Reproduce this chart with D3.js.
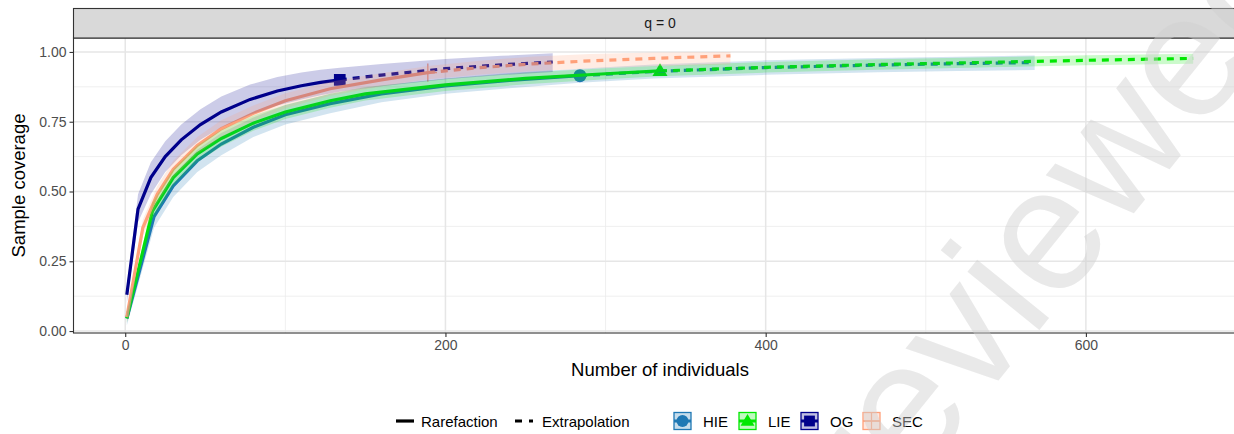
<!DOCTYPE html>
<html>
<head>
<meta charset="utf-8">
<script src="https://cdn.jsdelivr.net/npm/d3@7/dist/d3.min.js"></script>
<style>
  body { margin: 0; background: #fff; }
  svg { display: block; font-family: "Liberation Sans", Arial, sans-serif; }
</style>
</head>
<body>
<svg id="chart" width="1234" height="434"></svg>
<script>
// tick labels
const xTicks = [0, 200, 400, 600];
const yTicks = [0, 0.25, 0.5, 0.75, 1];
const lineTypes = ['Rarefaction', 'Extrapolation'];

// sites
const siteNames = ['HIE', 'LIE', 'OG', 'SEC'];
const siteColors = ['#1f78b4', '#00e800', '#00008b', '#ffa07a'];
const siteShapes = ['circle', 'triangle', 'square', 'plus'];
const siteObserved = [284, 334, 134, 189];

// number of individuals / coverage / lower / upper, per site
const hieN  = [1, 18, 30, 45, 60, 80, 100, 128, 160, 200, 240, 284, 330, 400, 470, 520, 568];
const hieC  = [0.045, 0.41, 0.52, 0.61, 0.67, 0.73, 0.775, 0.815, 0.85, 0.878, 0.898, 0.915, 0.93, 0.944, 0.953, 0.958, 0.962];
const hieLo = [0.02, 0.37, 0.48, 0.57, 0.63, 0.695, 0.74, 0.78, 0.82, 0.85, 0.87, 0.89, 0.905, 0.918, 0.927, 0.932, 0.935];
const hieHi = [0.07, 0.45, 0.56, 0.65, 0.71, 0.765, 0.81, 0.85, 0.88, 0.905, 0.925, 0.94, 0.955, 0.97, 0.978, 0.983, 0.987];

const lieN  = [1, 17, 30, 45, 60, 80, 100, 128, 150, 200, 250, 300, 334, 400, 470, 540, 600, 667];
const lieC  = [0.045, 0.43, 0.55, 0.635, 0.69, 0.745, 0.785, 0.825, 0.85, 0.882, 0.905, 0.922, 0.932, 0.945, 0.955, 0.963, 0.97, 0.977];
const lieLo = [0.03, 0.40, 0.52, 0.605, 0.66, 0.718, 0.76, 0.80, 0.826, 0.86, 0.884, 0.902, 0.913, 0.926, 0.936, 0.945, 0.952, 0.958];
const lieHi = [0.06, 0.46, 0.58, 0.665, 0.72, 0.772, 0.81, 0.85, 0.874, 0.904, 0.926, 0.942, 0.951, 0.964, 0.974, 0.981, 0.988, 0.994];

const ogN  = [1, 8, 16, 25, 35, 47, 60, 78, 95, 110, 122, 134, 160, 200, 235, 267];
const ogC  = [0.13, 0.437, 0.55, 0.625, 0.685, 0.74, 0.785, 0.83, 0.86, 0.879, 0.891, 0.90, 0.917, 0.94, 0.954, 0.964];
const ogLo = [0.10, 0.39, 0.49, 0.57, 0.63, 0.685, 0.73, 0.775, 0.808, 0.83, 0.845, 0.857, 0.877, 0.902, 0.917, 0.928];
const ogHi = [0.16, 0.49, 0.605, 0.68, 0.74, 0.795, 0.84, 0.883, 0.91, 0.926, 0.936, 0.943, 0.957, 0.975, 0.986, 0.995];

const secN  = [1, 11, 20, 30, 45, 60, 80, 100, 128, 160, 189, 220, 253, 290, 330, 378];
const secC  = [0.05, 0.37, 0.49, 0.58, 0.665, 0.725, 0.78, 0.825, 0.868, 0.90, 0.926, 0.943, 0.957, 0.968, 0.977, 0.986];
const secLo = [0.03, 0.34, 0.46, 0.55, 0.635, 0.695, 0.752, 0.798, 0.843, 0.876, 0.902, 0.918, 0.931, 0.941, 0.949, 0.955];
const secHi = [0.07, 0.40, 0.52, 0.61, 0.695, 0.755, 0.808, 0.852, 0.893, 0.924, 0.95, 0.968, 0.983, 0.993, 0.998, 1.0];

const raw = [[hieN, hieC, hieLo, hieHi], [lieN, lieC, lieLo, lieHi], [ogN, ogC, ogLo, ogHi], [secN, secC, secLo, secHi]];
const sites = raw.map((r, i) => ({
  name: siteNames[i], color: siteColors[i], shape: siteShapes[i], obs: siteObserved[i],
  pts: r[0].map((n, j) => ({n: n, c: r[1][j], lo: r[2][j], hi: r[3][j]}))
}));

const svg = d3.select('#chart');
const panel = {left: 73.5, right: 1246.5, top: 38, bottom: 333};

const allN = sites.flatMap(s => s.pts.map(p => p.n));
const nMin = d3.min(allN), nMax = d3.max(allN), pad = (nMax - nMin) * 0.05;
const x = d3.scaleLinear().domain([nMin - pad, nMax + pad]).range([panel.left, panel.right]);
const y = d3.scaleLinear().domain([-0.007, 1.05]).range([panel.bottom, panel.top]);

// panel grid
const grid = svg.append('g');
const xMinor = xTicks.slice(0, -1).map(t => t + 100).concat([700]).filter(t => x(t) < panel.right);
const yMinor = yTicks.slice(0, -1).map(t => t + 0.125);
grid.selectAll('.xmin').data(xMinor).enter().append('line')
  .attr('x1', d => x(d)).attr('x2', d => x(d)).attr('y1', panel.top).attr('y2', panel.bottom)
  .attr('stroke', '#ebebeb').attr('stroke-width', 0.8);
grid.selectAll('.ymin').data(yMinor).enter().append('line')
  .attr('x1', panel.left).attr('x2', panel.right).attr('y1', d => y(d)).attr('y2', d => y(d))
  .attr('stroke', '#ebebeb').attr('stroke-width', 0.8);
grid.selectAll('.xmaj').data(xTicks).enter().append('line')
  .attr('x1', d => x(d)).attr('x2', d => x(d)).attr('y1', panel.top).attr('y2', panel.bottom)
  .attr('stroke', '#e6e6e6').attr('stroke-width', 1.5);
grid.selectAll('.ymaj').data(yTicks).enter().append('line')
  .attr('x1', panel.left).attr('x2', panel.right).attr('y1', d => y(d)).attr('y2', d => y(d))
  .attr('stroke', '#e6e6e6').attr('stroke-width', 1.5);

svg.append('clipPath').attr('id', 'clip').append('rect')
  .attr('x', panel.left).attr('y', panel.top).attr('width', panel.right - panel.left).attr('height', panel.bottom - panel.top);
const plot = svg.append('g').attr('clip-path', 'url(#clip)');

const line = d3.line().x(d => x(d.n)).y(d => y(d.c));
const area = d3.area().x(d => x(d.n)).y0(d => y(d.lo)).y1(d => y(d.hi));

function marker(g, shape, cx, cy, s, color) {
  if (shape === 'circle') {
    g.append('circle').attr('cx', cx).attr('cy', cy).attr('r', s / 2).attr('fill', color);
  } else if (shape === 'triangle') {
    const h = s * 0.95;
    g.append('path').attr('d', `M${cx},${cy - h * 0.62}L${cx + s * 0.58},${cy + h * 0.42}L${cx - s * 0.58},${cy + h * 0.42}Z`).attr('fill', color);
  } else if (shape === 'square') {
    g.append('rect').attr('x', cx - s * 0.45).attr('y', cy - s * 0.45).attr('width', s * 0.9).attr('height', s * 0.9).attr('fill', color);
  } else {
    g.append('path').attr('d', `M${cx - s * 0.7},${cy}H${cx + s * 0.7}M${cx},${cy - s * 0.7}V${cy + s * 0.7}`)
      .attr('stroke', color).attr('stroke-width', 1.2).attr('fill', 'none');
  }
}

// observed points
sites.forEach(s => {
  const p = s.pts.find(d => d.n === s.obs);
  marker(plot, s.shape, x(p.n), y(p.c), 13, s.color);
});

// rarefaction + extrapolation lines
sites.forEach(s => {
  plot.append('path').datum(s.pts.filter(d => d.n <= s.obs)).attr('d', line)
    .attr('fill', 'none').attr('stroke', s.color).attr('stroke-width', 3.2);
  plot.append('path').datum(s.pts.filter(d => d.n >= s.obs)).attr('d', line)
    .attr('fill', 'none').attr('stroke', s.color).attr('stroke-width', 3.2).attr('stroke-dasharray', '7,6');
});

// confidence ribbons on top
sites.forEach(s => {
  plot.append('path').datum(s.pts).attr('d', area).attr('fill', s.color).attr('fill-opacity', 0.2);
});

// panel border
svg.append('rect').attr('x', panel.left).attr('y', panel.top)
  .attr('width', panel.right - panel.left).attr('height', panel.bottom - panel.top)
  .attr('fill', 'none').attr('stroke', '#333').attr('stroke-width', 1.1);

// facet strip
svg.append('rect').attr('x', panel.left).attr('y', 8.5).attr('width', panel.right - panel.left).attr('height', panel.top - 8.5)
  .attr('fill', '#d9d9d9').attr('stroke', '#333').attr('stroke-width', 1.1);
svg.append('text').attr('x', (panel.left + panel.right) / 2).attr('y', 28)
  .attr('text-anchor', 'middle').attr('font-size', 14).attr('fill', '#1a1a1a').text('q = 0');

// axes
const xAxis = svg.append('g').attr('transform', `translate(0,${panel.bottom})`)
  .call(d3.axisBottom(x).tickValues(xTicks).tickSize(4).tickPadding(3).tickFormat(d3.format('d')));
const yAxis = svg.append('g').attr('transform', `translate(${panel.left},0)`)
  .call(d3.axisLeft(y).tickValues(yTicks).tickSize(4).tickPadding(3).tickFormat(d3.format('.2f')));
[xAxis, yAxis].forEach(a => {
  a.select('.domain').remove();
  a.selectAll('line').attr('stroke', '#333').attr('stroke-width', 1.1);
  a.selectAll('text').attr('font-size', 14).attr('fill', '#4d4d4d').attr('font-family', 'Liberation Sans, Arial, sans-serif');
});

svg.append('text').attr('x', (panel.left + panel.right) / 2).attr('y', 376)
  .attr('text-anchor', 'middle').attr('font-size', 18.5).attr('fill', '#000').text('Number of individuals');
svg.append('text').attr('transform', `translate(25,${(panel.top + panel.bottom) / 2}) rotate(-90)`)
  .attr('text-anchor', 'middle').attr('font-size', 18.5).attr('fill', '#000').text('Sample coverage');

// legend
const leg = svg.append('g').attr('font-size', 15).attr('fill', '#000');
const legY = 421;
const ltKeys = [{x: 396, dash: null}, {x: 515, dash: '7,7'}];
const ltText = [421, 542];
lineTypes.forEach((t, i) => {
  leg.append('line').attr('x1', ltKeys[i].x).attr('x2', ltKeys[i].x + 18).attr('y1', legY).attr('y2', legY)
    .attr('stroke', '#000').attr('stroke-width', 3.2).attr('stroke-dasharray', ltKeys[i].dash);
  leg.append('text').attr('x', ltText[i]).attr('y', legY + 5.5).text(t);
});
const siteKeyX = [674, 739, 801, 863];
sites.forEach((s, i) => {
  const kx = siteKeyX[i], ks = 17;
  const k = leg.append('g');
  k.append('rect').attr('x', kx).attr('y', legY - ks / 2).attr('width', ks).attr('height', ks)
    .attr('fill', s.color).attr('fill-opacity', 0.25).attr('stroke', s.color).attr('stroke-width', 1.3);
  k.append('line').attr('x1', kx).attr('x2', kx + ks).attr('y1', legY).attr('y2', legY)
    .attr('stroke', s.color).attr('stroke-width', s.shape === 'plus' ? 1.5 : 3);
  marker(k, s.shape, kx + ks / 2, legY, 12, s.color);
  leg.append('text').attr('x', kx + ks + 12).attr('y', legY + 5.5).text(s.name);
});

// watermark
svg.append('text').attr('transform', 'translate(879,528) rotate(-51)')
  .attr('font-size', 175).attr('fill', '#cfcfcf').attr('fill-opacity', 0.45)
  .attr('font-family', 'Liberation Sans, Arial, sans-serif').text('reviewed');
</script>
</body>
</html>
